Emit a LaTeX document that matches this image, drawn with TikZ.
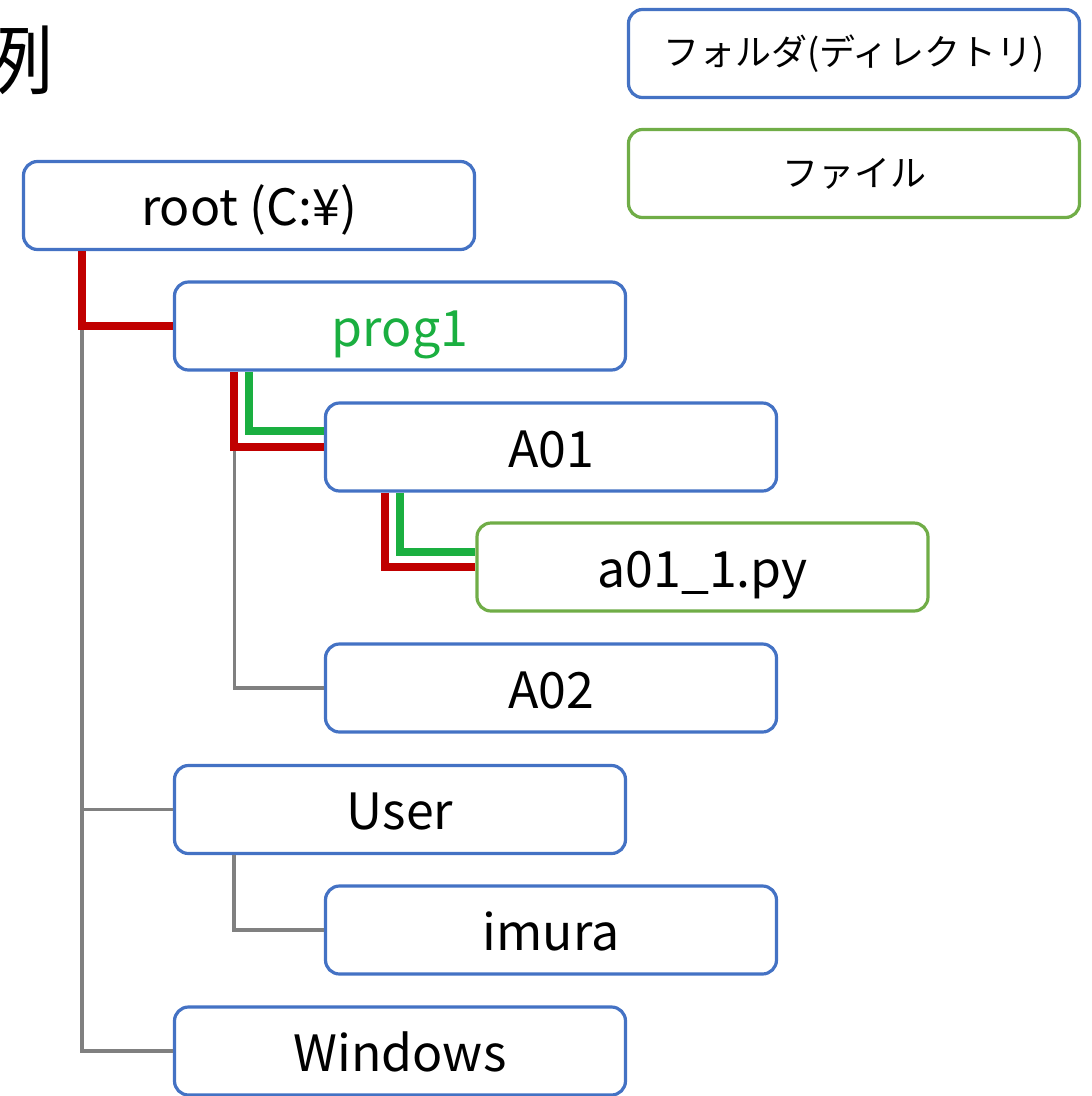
\documentclass[tikz,border=0pt]{standalone}
\usepackage{fontspec}
\setmainfont{Noto Sans CJK JP}
\definecolor{fblue}{HTML}{4472C4}
\definecolor{fgreen}{HTML}{70AD47}
\definecolor{lred}{HTML}{C00000}
\definecolor{lgreen}{HTML}{1AAF40}
\definecolor{lgray}{HTML}{808080}
\tikzset{
  boxbase/.style={draw=fblue, line width=3.2pt, rounded corners=14pt, minimum width=451pt, minimum height=88pt, inner sep=0pt, fill=white},
  folder/.style={boxbase, font=\fontsize{50}{60}\selectfont, text height=48pt, text depth=8pt},
  file/.style={folder, draw=fgreen},
  legendbox/.style={boxbase, font=\fontsize{36}{44}\selectfont},
  redl/.style={draw=lred, line width=8pt},
  greenl/.style={draw=lgreen, line width=8pt},
  grayl/.style={draw=lgray, line width=3.2pt},
}
\begin{document}
\begin{tikzpicture}[x=1pt,y=-1pt]
\useasboundingbox (0,0) rectangle (1092,1096);
% title
\node[inner sep=0pt, font=\fontsize{76}{80}\selectfont] (title) at (16,60) {例};
% legend
\node[legendbox] (lfolder) at (854,53.5) {フォルダ(ディレクトリ)};
\node[legendbox, draw=fgreen] (lfile) at (854,173.5) {ファイル};
% tree nodes
\node[folder] (root) at (249,205.5) {root (C:¥)};
\node[folder, text=lgreen] (prog1) at (400,326) {prog1};
\node[folder] (A01) at (551,447) {A01};
\node[file] (a01) at (702.5,567) {a01\_1.py};
\node[folder] (A02) at (551,688) {A02};
\node[folder] (User) at (400,809.5) {User};
\node[folder] (imura) at (551,930) {imura};
\node[folder] (Windows) at (400,1051) {Windows};
% connectors
\coordinate (rb) at ([xshift=60pt]root.south west);
\coordinate (rc) at (rb |- prog1.west);
\draw[grayl] (rc) |- (Windows.west);
\draw[grayl] (rc |- User.west) -- (User.west);
\draw[redl] (rb) |- (prog1.west);
\coordinate (pb) at ([xshift=61.5pt]prog1.south west);
\coordinate (pg) at ([xshift=76pt]prog1.south west);
\coordinate (pc) at (pb |- A01.west);
\draw[grayl] (pc) |- (A02.west);
\draw[greenl] (pg) |- ([yshift=16pt]A01.west);
\draw[redl] (pb) |- (A01.west);
\coordinate (ab) at ([xshift=61.5pt]A01.south west);
\coordinate (ag) at ([xshift=76pt]A01.south west);
\draw[greenl] (ag) |- ([yshift=15pt]a01.west);
\draw[redl] (ab) |- (a01.west);
\coordinate (ub) at ([xshift=61pt]User.south west);
\draw[grayl] (ub) |- (imura.west);
\end{tikzpicture}
\end{document}
